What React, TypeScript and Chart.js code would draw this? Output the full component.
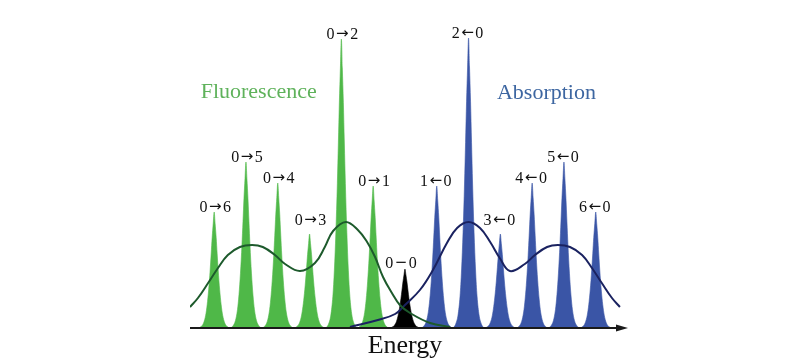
import React, { useEffect, useRef } from 'react';
import { Chart, registerables } from 'chart.js';

Chart.register(...registerables);

// Energy in units of vibrational quanta, 0-0 transition at 0
const QUANTA = [1, 2, 3, 4, 5, 6];
const FLUOR_INTENSITY = [142, 289, 94, 145, 166, 116];
const ABS_INTENSITY = [142, 290, 94, 145, 166, 116];
const ORIGIN_INTENSITY = 59;
const FLUOR_LABELS = ['0\u21921', '0\u21922', '0\u21923', '0\u21924', '0\u21925', '0\u21926'];
const ABS_LABELS = ['1\u21900', '2\u21900', '3\u21900', '4\u21900', '5\u21900', '6\u21900'];
const ORIGIN_LABEL = '0\u22120';

// single line profile (offset from centre, fraction of peak height)
const PROFILE_OFFSET = [0, 0.03, 0.063, 0.094, 0.126, 0.173, 0.22, 0.267, 0.33, 0.41, 0.487];
const PROFILE_FRACTION = [1, 0.9, 0.78, 0.64, 0.5, 0.33, 0.2, 0.11, 0.045, 0.012, 0];

// envelopes
const FLUOR_ENV_X = [-6.76, -6.51, -6.19, -5.88, -5.57, -5.19, -4.81, -4.47, -4.09, -3.77, -3.3, -2.83, -2.52, -2.26, -1.86, -1.48, -1.19, -0.94, -0.69, -0.41, -0.16, 0.16, 0.79, 1.42];
const FLUOR_ENV_Y = [21, 30, 45, 60, 73, 81, 83, 81, 73, 64, 57, 65, 81, 97, 106, 98, 86, 71, 51, 35, 23, 15, 5, 1];
const ABS_ENV_X = [-1.73, -0.85, -0.31, 0, 0.47, 0.88, 1.32, 1.64, 2.0, 2.36, 2.68, 2.98, 3.3, 3.77, 4.09, 4.47, 4.81, 5.19, 5.57, 5.88, 6.19, 6.51, 6.76];
const ABS_ENV_Y = [1, 8, 14, 23, 38, 58, 85, 100, 106, 100, 86, 70, 57, 64, 73, 81, 83, 81, 73, 60, 45, 30, 21];

const X_MIN = -6.76;
const X_MAX = 6.92;
const Y_MAX = 300;

const GREEN = '#4fb848';
const BLUE = '#3a55a6';
const SERIF = '"Liberation Serif", "Times New Roman", serif';

function peakPoints(center: number, height: number) {
  const pts: { x: number; y: number }[] = [];
  for (let i = PROFILE_OFFSET.length - 1; i >= 0; i--) {
    pts.push({ x: center - PROFILE_OFFSET[i], y: height * PROFILE_FRACTION[i] });
  }
  for (let i = 1; i < PROFILE_OFFSET.length; i++) {
    pts.push({ x: center + PROFILE_OFFSET[i], y: height * PROFILE_FRACTION[i] });
  }
  return pts;
}

function peakDataset(center: number, height: number, color: string) {
  return {
    data: peakPoints(center, height),
    backgroundColor: color,
    borderColor: color,
    borderWidth: 0.6,
    fill: 'origin',
    pointRadius: 0,
    cubicInterpolationMode: 'monotone',
    order: 1,
  };
}

// label drawn in parts: digits in serif, arrow glyph from DejaVu Sans
function drawLabel(ctx: any, text: string, cx: number, baseline: number) {
  const parts = [text[0], text[1], text[2]];
  const fonts = [`16px ${SERIF}`, '15px "DejaVu Sans", sans-serif', `16px ${SERIF}`];
  const gap = 1.5;
  const widths = parts.map((p, i) => {
    ctx.font = fonts[i];
    return ctx.measureText(p).width;
  });
  const total = widths[0] + widths[1] + widths[2] + gap * 2;
  let x = cx - total / 2;
  ctx.textAlign = 'left';
  parts.forEach((p, i) => {
    ctx.font = fonts[i];
    ctx.fillText(p, x, i === 1 ? baseline - 1 : baseline);
    x += widths[i] + gap;
  });
}

const overlay = {
  id: 'overlay',
  afterDraw(chart: any) {
    const ctx = chart.ctx;
    const xs = chart.scales.x;
    const ys = chart.scales.y;
    const y0 = ys.getPixelForValue(0);
    const left = chart.chartArea.left;
    const right = chart.chartArea.right;
    ctx.save();
    // energy axis with arrow
    ctx.strokeStyle = '#1a1a1a';
    ctx.fillStyle = '#1a1a1a';
    ctx.lineWidth = 2;
    ctx.beginPath();
    ctx.moveTo(left, y0);
    ctx.lineTo(right - 6, y0);
    ctx.stroke();
    ctx.beginPath();
    ctx.moveTo(right + 3, y0);
    ctx.lineTo(right - 9, y0 - 3.5);
    ctx.lineTo(right - 9, y0 + 3.5);
    ctx.closePath();
    ctx.fill();

    // peak labels
    ctx.textBaseline = 'alphabetic';
    ctx.fillStyle = '#111';
    QUANTA.forEach((q, i) => {
      const lift = q === 3 ? 9 : 0;
      drawLabel(ctx, FLUOR_LABELS[i], xs.getPixelForValue(-q) + 1, ys.getPixelForValue(FLUOR_INTENSITY[i]) - lift);
      drawLabel(ctx, ABS_LABELS[i], xs.getPixelForValue(q) - 1, ys.getPixelForValue(ABS_INTENSITY[i]) - lift);
    });
    drawLabel(ctx, ORIGIN_LABEL, xs.getPixelForValue(0) - 4, ys.getPixelForValue(ORIGIN_INTENSITY) - 1);

    // series titles
    ctx.textAlign = 'center';
    ctx.font = `22px ${SERIF}`;
    ctx.textBaseline = 'middle';
    ctx.fillStyle = '#5fb25b';
    ctx.fillText('Fluorescence', xs.getPixelForValue(-4.6), 92);
    ctx.fillStyle = '#3d66a1';
    ctx.fillText('Absorption', xs.getPixelForValue(4.45), 93);

    // axis title
    ctx.font = `26px ${SERIF}`;
    ctx.textBaseline = 'alphabetic';
    ctx.fillStyle = '#111';
    ctx.fillText('Energy', xs.getPixelForValue(0), 353);
    ctx.restore();
  },
};

export default function App() {
  const ref = useRef<HTMLCanvasElement>(null);
  useEffect(() => {
    if (!ref.current) return;
    const datasets: any[] = [];
    datasets.push({
      data: FLUOR_ENV_X.map((x, i) => ({ x, y: FLUOR_ENV_Y[i] })),
      borderColor: '#1d5a2c',
      borderWidth: 2,
      pointRadius: 0,
      fill: false,
      tension: 0.4,
      order: 0,
    });
    datasets.push({
      data: ABS_ENV_X.map((x, i) => ({ x, y: ABS_ENV_Y[i] })),
      borderColor: '#1a2260',
      borderWidth: 2,
      pointRadius: 0,
      fill: false,
      tension: 0.4,
      order: 0,
    });
    QUANTA.forEach((q, i) => {
      datasets.push(peakDataset(-q, FLUOR_INTENSITY[i], GREEN));
      datasets.push(peakDataset(q, ABS_INTENSITY[i], BLUE));
    });
    datasets.push(peakDataset(0, ORIGIN_INTENSITY, '#000'));

    const chart = new Chart(ref.current, {
      type: 'line',
      data: { datasets },
      options: {
        animation: false,
        responsive: true,
        maintainAspectRatio: false,
        layout: { padding: { left: 190, right: 175, top: 28, bottom: 36 } },
        plugins: { legend: { display: false }, tooltip: { enabled: false } },
        scales: {
          x: { type: 'linear', min: X_MIN, max: X_MAX, display: false },
          y: { type: 'linear', min: 0, max: Y_MAX, display: false },
        },
      },
      plugins: [overlay],
    } as any);
    return () => chart.destroy();
  }, []);
  return (
    <div style={{ position: 'fixed', left: 0, top: 0, width: 800, height: 364, background: '#fff' }}>
      <canvas ref={ref} />
    </div>
  );
}
